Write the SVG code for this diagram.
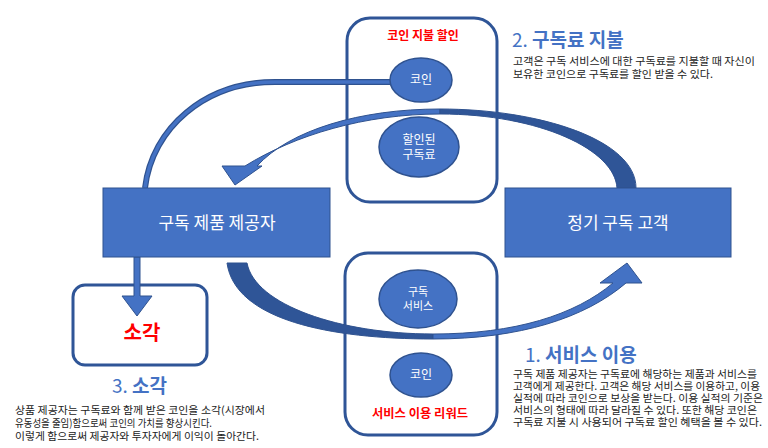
<svg xmlns="http://www.w3.org/2000/svg" width="768" height="448" viewBox="0 0 768 448">
<style>
text{font-family:"Noto Sans CJK KR","Noto Sans",sans-serif}
.frame{fill:none;stroke:#2F5597;stroke-width:3}
.rect{fill:#4472C4;stroke:#2F528F;stroke-width:1}
.ell{fill:#4472C4;stroke:#2F528F;stroke-width:1.5}
.wt{fill:#fff;text-anchor:middle}
.red{fill:#FF0000;font-weight:bold;text-anchor:middle}
.head{fill:#4472C4;font-size:19px}
.body{fill:#222;font-size:10.5px}
.lite{fill:#4472C4;stroke:#2F528F;stroke-width:1}
.dark{fill:#2F5597;stroke:#2F528F;stroke-width:1}
</style>
<rect width="768" height="448" fill="#fff"/>

<g id="box-payment">
<rect class="frame" x="347" y="18" width="150" height="184" rx="23"/>
<text class="red" x="423" y="40" font-size="12">코인 지불 할인</text>
</g>
<g id="box-reward">
<rect class="frame" x="345" y="253" width="152" height="182" rx="23"/>
<text class="red" x="420" y="418" font-size="12" textLength="96" lengthAdjust="spacingAndGlyphs">서비스 이용 리워드</text>
</g>
<g id="box-burn">
<rect class="frame" x="73" y="285" width="134" height="80" rx="12"/>
<text class="red" x="142" y="340" font-size="20">소각</text>
</g>

<g id="connectors">
<path d="M390,82 L275,82 C205,82 152,128 145,188" fill="none" stroke="#2F528F" stroke-width="6"/>
<path d="M390,82 L275,82 C205,82 152,128 145,188" fill="none" stroke="#4472C4" stroke-width="3.5"/>
<path class="lite" d="M440,109 C360,109 290,130 257,166 L262,166 L235,185 L222,166 L245,166 C295,135 365,114 440,114 Z"/>
<path class="dark" d="M440,109 C540,109 636,140 636,188 L617,188 C615,150 540,114 440,114 Z"/>
<path class="dark" d="M227,263 C235,320 330,339 433,339 L433,334 C340,334 255,305 247,263 Z"/>
<path class="lite" d="M433,339 C520,339 585,318 626,283 L642,283 L627,263 L600,283 L613,283 C575,315 515,334 433,334 Z"/>
<path class="lite" d="M134,257 L140,257 L140,296 L152,296 L137,316 L122,296 L134,296 Z"/>
</g>

<g id="node-coin-top">
<ellipse class="ell" cx="421" cy="80" rx="31" ry="22"/>
<text class="wt" x="421" y="84" font-size="12">코인</text>
</g>
<g id="node-discount">
<ellipse class="ell" cx="419" cy="147" rx="40" ry="30"/>
<text class="wt" x="419" y="144" font-size="12">할인된<tspan x="419" y="159">구독료</tspan></text>
</g>
<g id="node-service">
<ellipse class="ell" cx="418" cy="299" rx="39" ry="29"/>
<text class="wt" x="418" y="296" font-size="11">구독<tspan x="418" y="310">서비스</tspan></text>
</g>
<g id="node-coin-bottom">
<ellipse class="ell" cx="421" cy="375" rx="31" ry="22"/>
<text class="wt" x="421" y="379" font-size="12">코인</text>
</g>

<g id="node-provider">
<rect class="rect" x="103" y="188" width="227" height="69"/>
<text class="wt" x="217" y="229" font-size="17">구독 제품 제공자</text>
</g>
<g id="node-customer">
<rect class="rect" x="505" y="188" width="226" height="69"/>
<text class="wt" x="618" y="229" font-size="17">정기 구독 고객</text>
</g>

<g id="label-2">
<text class="head" x="512" y="47">2. <tspan font-weight="bold">구독료 지불</tspan></text>
<text class="body"><tspan x="513" y="65" textLength="242" lengthAdjust="spacingAndGlyphs">고객은 구독 서비스에 대한 구독료를 지불할 때 자신이</tspan><tspan x="513" y="78" textLength="200" lengthAdjust="spacingAndGlyphs">보유한 코인으로 구독료를 할인 받을 수 있다.</tspan></text>
</g>
<g id="label-1">
<text class="head" x="525" y="362">1. <tspan font-weight="bold">서비스 이용</tspan></text>
<text class="body"><tspan x="513" y="378" textLength="244" lengthAdjust="spacingAndGlyphs">구독 제품 제공자는 구독료에 해당하는 제품과 서비스를</tspan><tspan x="513" y="390" textLength="247" lengthAdjust="spacingAndGlyphs">고객에게 제공한다. 고객은 해당 서비스를 이용하고, 이용</tspan><tspan x="513" y="402" textLength="250" lengthAdjust="spacingAndGlyphs">실적에 따라 코인으로 보상을 받는다. 이용 실적의 기준은</tspan><tspan x="513" y="414" textLength="244" lengthAdjust="spacingAndGlyphs">서비스의 형태에 따라 달라질 수 있다. 또한 해당 코인은</tspan><tspan x="513" y="426" textLength="249" lengthAdjust="spacingAndGlyphs">구독료 지불 시 사용되어 구독료 할인 혜택을 볼 수 있다.</tspan></text>
</g>
<g id="label-3">
<text class="head" x="112" y="393">3. <tspan font-weight="bold">소각</tspan></text>
<text class="body"><tspan x="15" y="414" textLength="250" lengthAdjust="spacingAndGlyphs">상품 제공자는 구독료와 함께 받은 코인을 소각(시장에서</tspan><tspan x="15" y="427" textLength="197" lengthAdjust="spacingAndGlyphs">유동성을 줄임)함으로써 코인의 가치를 향상시킨다.</tspan><tspan x="15" y="440" textLength="244" lengthAdjust="spacingAndGlyphs">이렇게 함으로써 제공자와 투자자에게 이익이 돌아간다.</tspan></text>
</g>
</svg>
